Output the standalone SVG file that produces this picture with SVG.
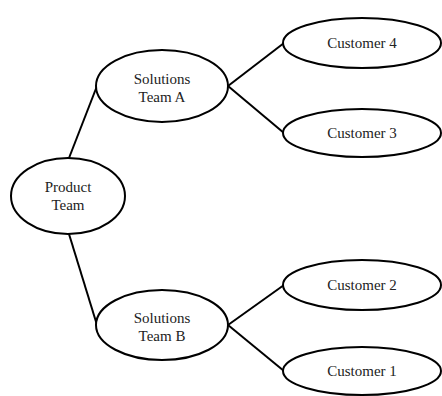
<svg xmlns="http://www.w3.org/2000/svg" width="442" height="396" viewBox="0 0 442 396">
<style>
.n ellipse{fill:#fff;stroke:#000;stroke-width:2}
.c line{stroke:#000;stroke-width:2}
.n text{font-family:'Liberation Serif','Times New Roman',Times,serif;font-size:15px;fill:#222;text-anchor:middle}
</style>
<rect width="442" height="396" fill="#fff"/>
<g id="connectors" class="c">
<line x1="69" y1="158" x2="97" y2="86"/>
<line x1="69" y1="234" x2="97" y2="325"/>
<line x1="228" y1="86" x2="284" y2="43"/>
<line x1="228" y1="86" x2="284" y2="133"/>
<line x1="228" y1="325" x2="284" y2="285"/>
<line x1="228" y1="325" x2="284" y2="371"/>
</g>
<g id="product-team" class="n"><ellipse cx="68" cy="196" rx="57" ry="38"/><text x="68" y="192">Product</text><text x="68" y="210">Team</text></g>
<g id="solutions-team-a" class="n"><ellipse cx="162" cy="86" rx="66" ry="36"/><text x="162" y="84">Solutions</text><text x="162" y="102">Team A</text></g>
<g id="solutions-team-b" class="n"><ellipse cx="162" cy="325" rx="66" ry="35"/><text x="162" y="323">Solutions</text><text x="162" y="341">Team B</text></g>
<g id="customer-4" class="n"><ellipse cx="362" cy="43" rx="79" ry="25"/><text x="362" y="48">Customer 4</text></g>
<g id="customer-3" class="n"><ellipse cx="362" cy="133" rx="79" ry="24"/><text x="362" y="138">Customer 3</text></g>
<g id="customer-2" class="n"><ellipse cx="362" cy="285" rx="79" ry="25"/><text x="362" y="290">Customer 2</text></g>
<g id="customer-1" class="n"><ellipse cx="362" cy="371" rx="79" ry="24"/><text x="362" y="376">Customer 1</text></g>
</svg>
